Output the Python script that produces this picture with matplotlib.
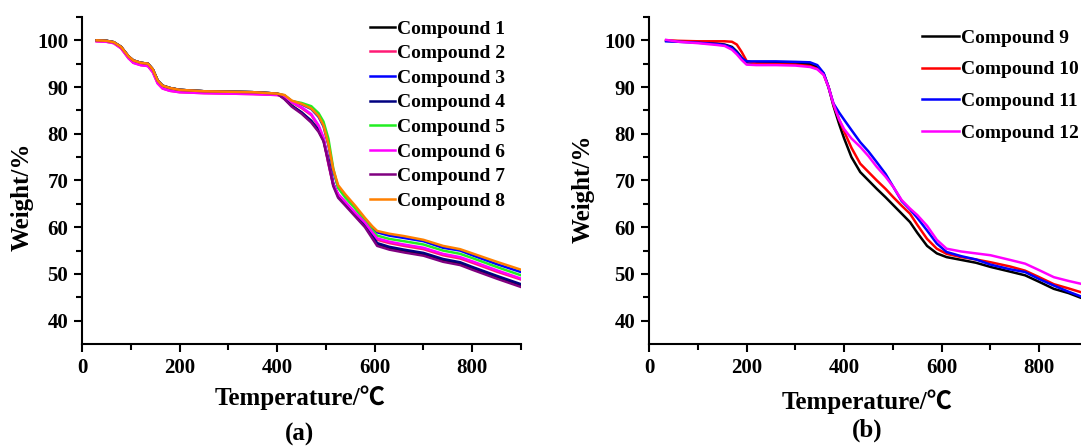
import matplotlib
matplotlib.use("Agg")
import matplotlib.pyplot as plt

plt.rcParams['font.family'] = ['Liberation Serif', 'Noto Sans CJK SC', 'DejaVu Serif']
plt.rcParams['font.weight'] = 'bold'

# ---- panel (a) ----
temp_a = [30, 50, 65, 80, 95, 105, 120, 135, 145, 155, 165, 180, 200, 250, 300, 350, 400,
          415, 430, 450, 470, 485, 495, 505, 515, 525, 540, 560, 580, 595,
          605, 630, 660, 700, 740, 775, 800, 850, 900]
early_hi = [100.0, 99.9, 99.6, 98.6, 96.6, 95.7, 95.2, 95.0, 93.8, 91.4, 90.3, 89.8, 89.4,
            89.1, 89.0, 88.9, 88.6]
early_lo = [99.8, 99.7, 99.4, 98.3, 96.2, 95.2, 94.7, 94.5, 93.2, 90.8, 89.7, 89.2, 88.9,
            88.7, 88.6, 88.5, 88.3]

w_c1 = early_hi + [87.6, 86.0, 84.5, 82.6, 80.6, 78.6, 74.2, 69.2, 66.6, 64.8, 62.5, 60.2, 58.0,
                   56.3, 55.5, 54.9, 54.2, 52.9, 52.2, 51.2, 49.3, 47.5]
w_c2 = early_lo + [88.0, 86.7, 85.5, 84.0, 81.6, 79.0, 73.6, 69.0, 67.0, 65.3, 63.0, 60.8, 58.6,
                   57.3, 56.6, 56.0, 55.3, 54.0, 53.3, 52.4, 50.5, 48.8]
w_c3 = early_hi + [88.2, 87.0, 86.3, 85.3, 83.6, 81.6, 77.6, 72.0, 68.6, 66.6, 64.2, 61.7, 60.0,
                   58.9, 58.2, 57.7, 57.0, 55.6, 55.0, 54.0, 52.1, 50.4]
w_c4 = early_hi + [87.5, 86.0, 84.6, 82.8, 80.8, 78.8, 74.5, 69.4, 66.8, 65.0, 62.7, 60.4, 58.2,
                   56.6, 55.8, 55.2, 54.5, 53.2, 52.5, 51.5, 49.6, 47.8]
w_c5 = early_hi + [88.2, 87.0, 86.6, 85.9, 84.4, 82.6, 79.0, 72.6, 68.4, 66.3, 64.0, 61.4, 59.4,
                   58.2, 57.5, 57.0, 56.3, 55.0, 54.3, 53.4, 51.5, 49.7]
w_c6 = early_lo + [88.0, 86.8, 85.7, 84.2, 81.8, 79.2, 73.8, 69.2, 67.1, 65.4, 63.1, 61.0, 58.9,
                   57.6, 56.9, 56.3, 55.6, 54.3, 53.6, 52.7, 50.8, 49.0]
w_c7 = early_hi + [87.4, 85.8, 84.3, 82.4, 80.4, 78.4, 73.8, 68.8, 66.3, 64.6, 62.3, 60.0, 57.6,
                   56.0, 55.2, 54.6, 53.9, 52.6, 51.9, 50.9, 49.0, 47.2]
w_c8 = early_hi + [88.3, 87.1, 86.4, 85.4, 83.8, 81.8, 77.8, 72.4, 69.0, 67.0, 64.6, 62.0, 60.2,
                   59.2, 58.6, 58.1, 57.3, 56.0, 55.3, 54.4, 52.6, 50.9]

labels_a = ['Compound 1', 'Compound 2', 'Compound 3', 'Compound 4',
            'Compound 5', 'Compound 6', 'Compound 7', 'Compound 8']
series_a = [w_c1, w_c2, w_c3, w_c4, w_c5, w_c6, w_c7, w_c8]
colors_a = ['#000000', '#ff1a75', '#0000ff', '#000080', '#22ee22', '#ff00ff', '#800080', '#ff8000']

# ---- panel (b) ----
temp_b = [35, 60, 100, 140, 155, 170, 180, 190, 200, 220, 260, 300, 330, 345, 358, 368, 378,
          390, 400, 415, 433, 450, 467, 485, 501, 518, 535, 550, 570, 590, 610, 640, 670, 700,
          740, 771, 800, 830, 860, 885, 900]
w_c9 = [99.9, 99.8, 99.6, 99.3, 99.1, 98.6, 97.6, 96.3, 95.3, 95.2, 95.2, 95.1, 94.9, 94.3,
        92.9, 90.0, 86.0, 82.0, 79.0, 75.0, 71.8, 70.0, 68.2, 66.4, 64.7, 62.9, 61.1, 58.8,
        56.0, 54.4, 53.6, 53.0, 52.4, 51.5, 50.5, 49.7, 48.3, 46.8, 45.9, 44.9, 44.5]
w_c10 = [100.0, 99.9, 99.8, 99.8, 99.8, 99.7, 99.1, 97.5, 95.6, 95.0, 94.9, 94.8, 94.5, 93.9,
         92.7, 90.0, 86.3, 83.0, 80.5, 77.0, 73.6, 71.8, 70.0, 68.2, 66.4, 64.6, 62.9, 60.5,
         57.5, 55.4, 54.3, 53.6, 53.1, 52.5, 51.6, 50.7, 49.3, 47.8, 46.9, 46.1, 45.7]
w_c11 = [99.8, 99.7, 99.5, 99.2, 99.0, 98.4, 97.4, 96.2, 95.5, 95.5, 95.5, 95.4, 95.3, 94.7,
         93.0, 90.0, 86.5, 84.5, 83.0, 80.8, 78.2, 76.2, 73.9, 71.4, 68.6, 65.6, 63.8, 62.0,
         59.3, 56.5, 54.7, 53.8, 53.1, 52.0, 51.0, 50.4, 48.9, 47.5, 46.2, 45.2, 44.8]
w_c12 = [100.1, 99.7, 99.4, 99.0, 98.8, 98.0, 97.0, 95.8, 94.8, 94.7, 94.7, 94.6, 94.3, 93.8,
         92.6, 90.0, 86.4, 83.0, 81.0, 79.0, 77.2, 75.2, 72.9, 70.8, 68.6, 65.8, 64.0, 62.6,
         60.3, 57.3, 55.4, 54.8, 54.4, 54.0, 53.0, 52.2, 50.8, 49.3, 48.5, 47.9, 47.5]

labels_b = ['Compound 9', 'Compound 10', 'Compound 11', 'Compound 12']
series_b = [w_c9, w_c10, w_c11, w_c12]
colors_b = ['#000000', '#ff0000', '#0000ff', '#ff00ff']

x_major = [0, 200, 400, 600, 800]
x_minor = [100, 300, 500, 700, 900]
y_major = [40, 50, 60, 70, 80, 90, 100]
y_minor = [45, 55, 65, 75, 85, 95, 105]

fig = plt.figure(figsize=(10.81, 4.46), dpi=100)
ax1 = fig.add_axes([0.0759, 0.2287, 0.4061, 0.7332])
ax2 = fig.add_axes([0.6004, 0.2287, 0.4061, 0.7332])

for ax, T, ser, cols, labs in [(ax1, temp_a, series_a, colors_a, labels_a),
                               (ax2, temp_b, series_b, colors_b, labels_b)]:
    for w, c, lab in zip(ser, cols, labs):
        ax.plot(T, w, color=c, lw=1.8, label=lab)
    ax.set_xlim(0, 900)
    ax.set_ylim(35, 105)
    ax.set_xticks(x_major)
    ax.set_xticks(x_minor, minor=True)
    ax.set_yticks(y_major)
    ax.set_yticks(y_minor, minor=True)
    ax.spines['top'].set_visible(False)
    ax.spines['right'].set_visible(False)
    ax.spines['left'].set_linewidth(1.5)
    ax.spines['bottom'].set_linewidth(1.5)
    ax.tick_params(which='major', direction='out', length=6, width=1.5, labelsize=15, pad=4)
    ax.tick_params(which='minor', direction='out', length=4, width=1.5)
    for t in ax.get_xticklabels() + ax.get_yticklabels():
        t.set_fontweight('bold')

ax1.legend(loc='upper left', bbox_to_anchor=(370 / 1081, 1 - 20 / 446),
           bbox_transform=fig.transFigure, frameon=False, fontsize=14,
           handlelength=1.3, handletextpad=0.1, labelspacing=0.36,
           borderpad=0, borderaxespad=0)
ax2.legend(loc='upper left', bbox_to_anchor=(922 / 1081, 1 - 29 / 446),
           bbox_transform=fig.transFigure, frameon=False, fontsize=14,
           handlelength=1.9, handletextpad=0.1, labelspacing=0.73,
           borderpad=0, borderaxespad=0)

def ftext(x, y, s, **kw):
    fig.text(x / 1081, 1 - y / 446, s, ha='center', va='center', fontweight='bold', **kw)

ftext(22, 197, 'Weight/%', fontsize=18, rotation=90)
ftext(583, 189, 'Weight/%', fontsize=18, rotation=90)
ftext(300, 398, 'Temperature/℃', fontsize=18)
ftext(867, 402, 'Temperature/℃', fontsize=18)
ftext(300, 434, '(a)', fontsize=18)
ftext(867, 430, '(b)', fontsize=18)

fig.savefig('out.png', dpi=100)
